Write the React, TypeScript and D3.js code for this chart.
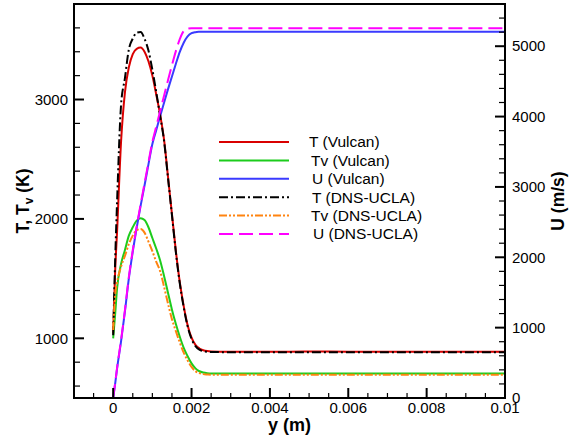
import React from 'react';
import * as d3 from 'd3';

// distance from wall (m)
const yPos = [0, 0.00005, 0.0001, 0.0002, 0.0003, 0.0004, 0.0005, 0.0006, 0.0007, 0.0008, 0.0009, 0.001,
  0.0011, 0.0012, 0.0013, 0.0014, 0.0015, 0.0016, 0.0017, 0.0018, 0.0019, 0.002, 0.0021, 0.0022, 0.0023,
  0.0024, 0.0025, 0.003, 0.004, 0.005, 0.006, 0.007, 0.008, 0.009, 0.01];

const tVulcan = [1040, 1560, 1900, 2640, 3060, 3270, 3380, 3425, 3435, 3400, 3320, 3200,
  3040, 2870, 2660, 2350, 2040, 1730, 1470, 1270, 1110, 1005, 945, 915, 900,
  893, 890, 888, 887, 889, 888, 888, 887, 888, 888];

const tvVulcan = [1000, 1200, 1420, 1620, 1740, 1860, 1930, 1985, 2005, 1990, 1930, 1840,
  1750, 1650, 1520, 1380, 1240, 1120, 1013, 920, 850, 790, 748, 724, 713,
  708, 706, 705, 705, 705, 705, 705, 705, 705, 705];

const uVulcan = [0, 200, 420, 800, 1230, 1700, 2080, 2420, 2730, 3020, 3320, 3610,
  3810, 4010, 4200, 4390, 4570, 4750, 4920, 5050, 5140, 5185, 5200, 5205, 5207,
  5207, 5207, 5207, 5207, 5207, 5207, 5207, 5207, 5207, 5207];

const tDns = [1025, 1650, 2150, 2950, 3180, 3420, 3510, 3560, 3565, 3510, 3410, 3250,
  3060, 2860, 2650, 2340, 2030, 1720, 1460, 1260, 1100, 995, 935, 905, 892,
  887, 885, 884, 884, 884, 884, 884, 884, 884, 884];

const tvDns = [1070, 1360, 1470, 1600, 1690, 1790, 1860, 1905, 1915, 1885, 1810, 1730,
  1640, 1560, 1430, 1290, 1160, 1060, 965, 880, 815, 760, 725, 708, 700,
  697, 695, 695, 695, 695, 695, 695, 695, 695, 695];

const uDns = [0, 210, 430, 820, 1250, 1720, 2100, 2440, 2750, 3050, 3350, 3640,
  3860, 4080, 4300, 4520, 4730, 4930, 5100, 5215, 5250, 5255, 5256, 5256, 5256,
  5256, 5256, 5256, 5256, 5256, 5256, 5256, 5256, 5256, 5256];

const xTicks = [0, 0.002, 0.004, 0.006, 0.008, 0.01];
const xTickLabels = ['0', '0.002', '0.004', '0.006', '0.008', '0.01'];
const tTicks = [1000, 2000, 3000];
const uTicks = [0, 1000, 2000, 3000, 4000, 5000];

const legendLabels = ['T (Vulcan)', 'Tv (Vulcan)', 'U (Vulcan)', 'T (DNS-UCLA)', 'Tv (DNS-UCLA)', 'U (DNS-UCLA)'];
const legendTextX = [309, 311, 312, 312, 311, 313];

const W = 575, H = 438;
const L = 74, R = 505, T = 4, B = 398;
const FONT = '"Liberation Sans", Arial, sans-serif';

export default function App() {
  const x = d3.scaleLinear().domain([-0.001, 0.01]).range([L, R]);
  const yT = d3.scaleLinear().domain([500, 3800]).range([B, T]);
  const yU = d3.scaleLinear().domain([0, 5600]).range([B, T]);

  const mk = (vals: number[], s: d3.ScaleLinear<number, number>) =>
    d3.line<number>().x((_, i) => x(yPos[i])).y((v) => s(v)).curve(d3.curveMonotoneX)(vals) || '';

  const series = [
    { vals: tVulcan, s: yT, color: '#d90000', dash: '' },
    { vals: tvVulcan, s: yT, color: '#1ccc1c', dash: '' },
    { vals: uVulcan, s: yU, color: '#3a3aff', dash: '' },
    { vals: tDns, s: yT, color: '#000000', dash: '9,3,2,3' },
    { vals: tvDns, s: yT, color: '#ff8410', dash: '8,2,2,2,2,2' },
    { vals: uDns, s: yU, color: '#ff00ff', dash: '14,6' },
  ];

  const xMinor = d3.range(-0.0005, 0.01, 0.0005).filter((v) => Math.abs(v / 0.002 - Math.round(v / 0.002)) > 1e-6);
  const tMinor = d3.range(600, 3800, 200).filter((v) => v % 1000 !== 0);
  const uMinor = d3.range(200, 5600, 200).filter((v) => v % 1000 !== 0);

  const legX0 = 219, legX1 = 289, legY0 = 142, legDy = 18.4;

  return (
    <svg width={W} height={H} style={{ position: 'absolute', left: 0, top: 0, background: '#fff' }} fontFamily={FONT}>
      <defs>
        <clipPath id="plotClip">
          <rect x={L} y={T} width={R - L} height={B - T} />
        </clipPath>
      </defs>
      <rect x={0} y={0} width={W} height={H} fill="#fff" />
      <g clipPath="url(#plotClip)">
        {series.map((sr, i) => (
          <path key={i} d={mk(sr.vals, sr.s)} fill="none" stroke={sr.color} strokeWidth={2}
            strokeDasharray={sr.dash || undefined} />
        ))}
      </g>
      {/* ticks */}
      <g stroke="#000">
        {xTicks.map((v) => <line key={'xm' + v} x1={x(v)} x2={x(v)} y1={B} y2={B - 10} strokeWidth={2} />)}
        {xMinor.map((v) => <line key={'xn' + v} x1={x(v)} x2={x(v)} y1={B} y2={B - 5} strokeWidth={1.2} />)}
        {tTicks.map((v) => <line key={'tm' + v} x1={L} x2={L + 10} y1={yT(v)} y2={yT(v)} strokeWidth={2} />)}
        {tMinor.map((v) => <line key={'tn' + v} x1={L} x2={L + 6} y1={yT(v)} y2={yT(v)} strokeWidth={1.2} />)}
        {uTicks.map((v) => <line key={'um' + v} x1={R} x2={R - 10} y1={yU(v)} y2={yU(v)} strokeWidth={2} />)}
        {uMinor.map((v) => <line key={'un' + v} x1={R} x2={R - 6} y1={yU(v)} y2={yU(v)} strokeWidth={1.2} />)}
      </g>
      <rect x={L} y={T} width={R - L} height={B - T} fill="none" stroke="#000" strokeWidth={2} />
      {/* tick labels */}
      <g fontSize={15} fill="#000">
        {xTicks.map((v, i) => (
          <text key={'xl' + v} x={x(v)} y={413} textAnchor="middle">{xTickLabels[i]}</text>
        ))}
        {tTicks.map((v) => (
          <text key={'tl' + v} x={68} y={yT(v)} dy="0.35em" textAnchor="end">{v}</text>
        ))}
        {uTicks.map((v) => (
          <text key={'ul' + v} x={512} y={yU(v)} dy="0.35em" textAnchor="start">{v}</text>
        ))}
      </g>
      {/* axis titles */}
      <text x={(L + R) / 2} y={431} textAnchor="middle" fontSize={18} fontWeight="bold">y (m)</text>
      <text transform={`translate(23,${(T + B) / 2}) rotate(-90)`} textAnchor="middle" dy="0.35em" fontSize={17.5} fontWeight="bold">
        T, T<tspan fontSize={12} dy={4}>v</tspan><tspan dy={-4}> (K)</tspan>
      </text>
      <text transform={`translate(558,${(T + B) / 2}) rotate(-90)`} textAnchor="middle" dy="0.35em" fontSize={17.5} fontWeight="bold">
        U (m/s)
      </text>
      {/* legend */}
      <g>
        {series.map((sr, i) => (
          <g key={'lg' + i}>
            <line x1={legX0} x2={legX1} y1={legY0 + i * legDy} y2={legY0 + i * legDy} stroke={sr.color}
              strokeWidth={2} strokeDasharray={sr.dash || undefined} />
            <text x={legendTextX[i]} y={legY0 + i * legDy} dy="0.35em" fontSize={15.5}>{legendLabels[i]}</text>
          </g>
        ))}
      </g>
    </svg>
  );
}
